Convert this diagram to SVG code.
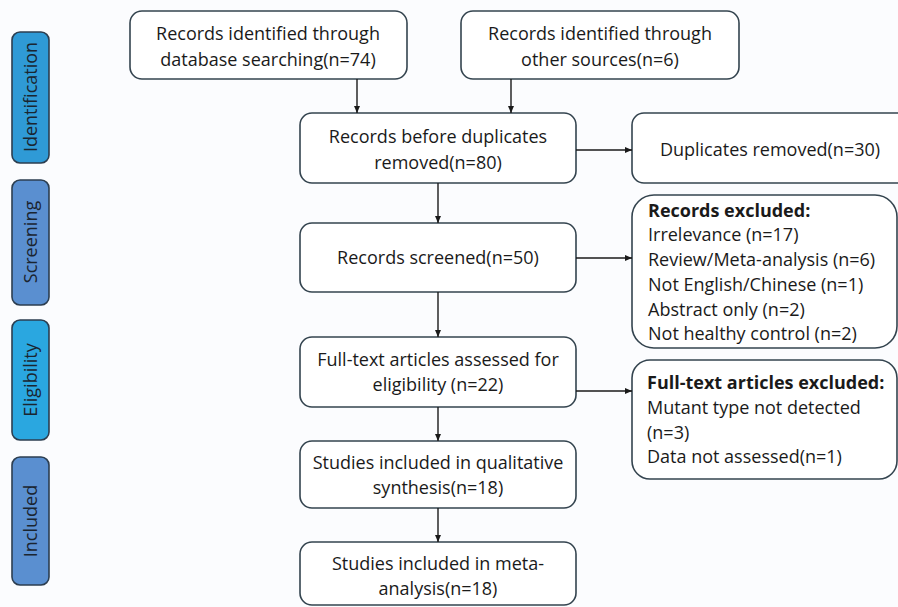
<svg xmlns="http://www.w3.org/2000/svg" width="898" height="607" viewBox="0 0 898 607">
<defs>
<marker id="ah" markerWidth="8" markerHeight="8" refX="7" refY="4" orient="auto" markerUnits="userSpaceOnUse">
<path d="M0,1 L7,4 L0,7 Z" fill="#1a1a1a"/>
</marker>
<style>
.box{fill:#ffffff;stroke:#34444f;stroke-width:1.6}
.side{stroke:#2c3e50;stroke-width:1.6}
.t{font-family:"Open Sans","Noto Sans",sans-serif;font-size:18px;fill:#1a1a1a}
.c{text-anchor:middle}
.b{font-weight:bold}
.st{font-family:"Open Sans","Noto Sans",sans-serif;font-size:18px;fill:#1a2530;text-anchor:middle}
.ln{stroke:#1a1a1a;stroke-width:1.4;fill:none;marker-end:url(#ah)}
</style>
</defs>
<rect width="898" height="607" fill="#fbfcfe"/>
<g id="side-identification"><rect class="side" x="12" y="32" width="37" height="131" rx="8" fill="#2f9ad6"/><text class="st" transform="translate(37,97) rotate(-90)">Identification</text></g>
<g id="side-screening"><rect class="side" x="12" y="180" width="37" height="125" rx="8" fill="#5a8fd0"/><text class="st" transform="translate(37,242) rotate(-90)">Screening</text></g>
<g id="side-eligibility"><rect class="side" x="12" y="320" width="37" height="120" rx="8" fill="#2aa7e0"/><text class="st" transform="translate(37,380) rotate(-90)">Eligibility</text></g>
<g id="side-included"><rect class="side" x="12" y="457" width="37" height="128" rx="8" fill="#5a8fd0"/><text class="st" transform="translate(37,521) rotate(-90)">Included</text></g>

<g id="n-db"><rect class="box" x="130" y="11" width="277" height="68" rx="12"/><text class="t c" x="268" y="40">Records identified through</text><text class="t c" x="268" y="66">database searching(n=74)</text></g>
<g id="n-other"><rect class="box" x="461" y="11" width="278" height="68" rx="12"/><text class="t c" x="600" y="40">Records  identified through</text><text class="t c" x="600" y="66">other sources(n=6)</text></g>
<g id="n-before"><rect class="box" x="300" y="113" width="276" height="70" rx="12"/><text class="t c" x="438" y="143">Records before duplicates</text><text class="t c" x="438" y="169">removed(n=80)</text></g>
<g id="n-dup"><rect class="box" x="632" y="113" width="280" height="70" rx="12"/><text class="t c" x="770" y="156">Duplicates removed(n=30)</text></g>
<g id="n-screened"><rect class="box" x="300" y="223" width="276" height="69" rx="12"/><text class="t c" x="438" y="264">Records screened(n=50)</text></g>
<g id="n-excl"><rect class="box" x="632" y="195" width="265" height="153" rx="22"/>
<text class="t b" x="648" y="217">Records excluded:</text>
<text class="t" x="648" y="241">Irrelevance (n=17)</text>
<text class="t" x="648" y="266">Review/Meta-analysis (n=6)</text>
<text class="t" x="648" y="291">Not English/Chinese (n=1)</text>
<text class="t" x="648" y="316">Abstract only (n=2)</text>
<text class="t" x="648" y="340">Not healthy control (n=2)</text></g>
<g id="n-fulltext"><rect class="box" x="300" y="337" width="276" height="70" rx="12"/><text class="t c" x="438" y="366">Full-text articles assessed for</text><text class="t c" x="438" y="391">eligibility (n=22)</text></g>
<g id="n-ftexcl"><rect class="box" x="632" y="360" width="265" height="119" rx="18"/>
<text class="t b" x="647" y="389">Full-text articles excluded:</text>
<text class="t" x="647" y="414">Mutant type not detected</text>
<text class="t" x="647" y="439">(n=3)</text>
<text class="t" x="647" y="463">Data not assessed(n=1)</text></g>
<g id="n-qual"><rect class="box" x="300" y="441" width="276" height="67" rx="12"/><text class="t c" x="438" y="469">Studies included in qualitative</text><text class="t c" x="438" y="494">synthesis(n=18)</text></g>
<g id="n-meta"><rect class="box" x="300" y="542" width="276" height="63" rx="12"/><text class="t c" x="438" y="570">Studies included in meta-</text><text class="t c" x="438" y="595">analysis(n=18)</text></g>

<g id="connectors">
<line class="ln" x1="357" y1="79" x2="357" y2="113"/>
<line class="ln" x1="511" y1="79" x2="511" y2="113"/>
<line class="ln" x1="576" y1="150" x2="632" y2="150"/>
<line class="ln" x1="438" y1="183" x2="438" y2="223"/>
<line class="ln" x1="576" y1="258" x2="632" y2="258"/>
<line class="ln" x1="438" y1="292" x2="438" y2="337"/>
<line class="ln" x1="576" y1="391" x2="632" y2="391"/>
<line class="ln" x1="438" y1="407" x2="438" y2="441"/>
<line class="ln" x1="438" y1="508" x2="438" y2="542"/>
</g>
</svg>
